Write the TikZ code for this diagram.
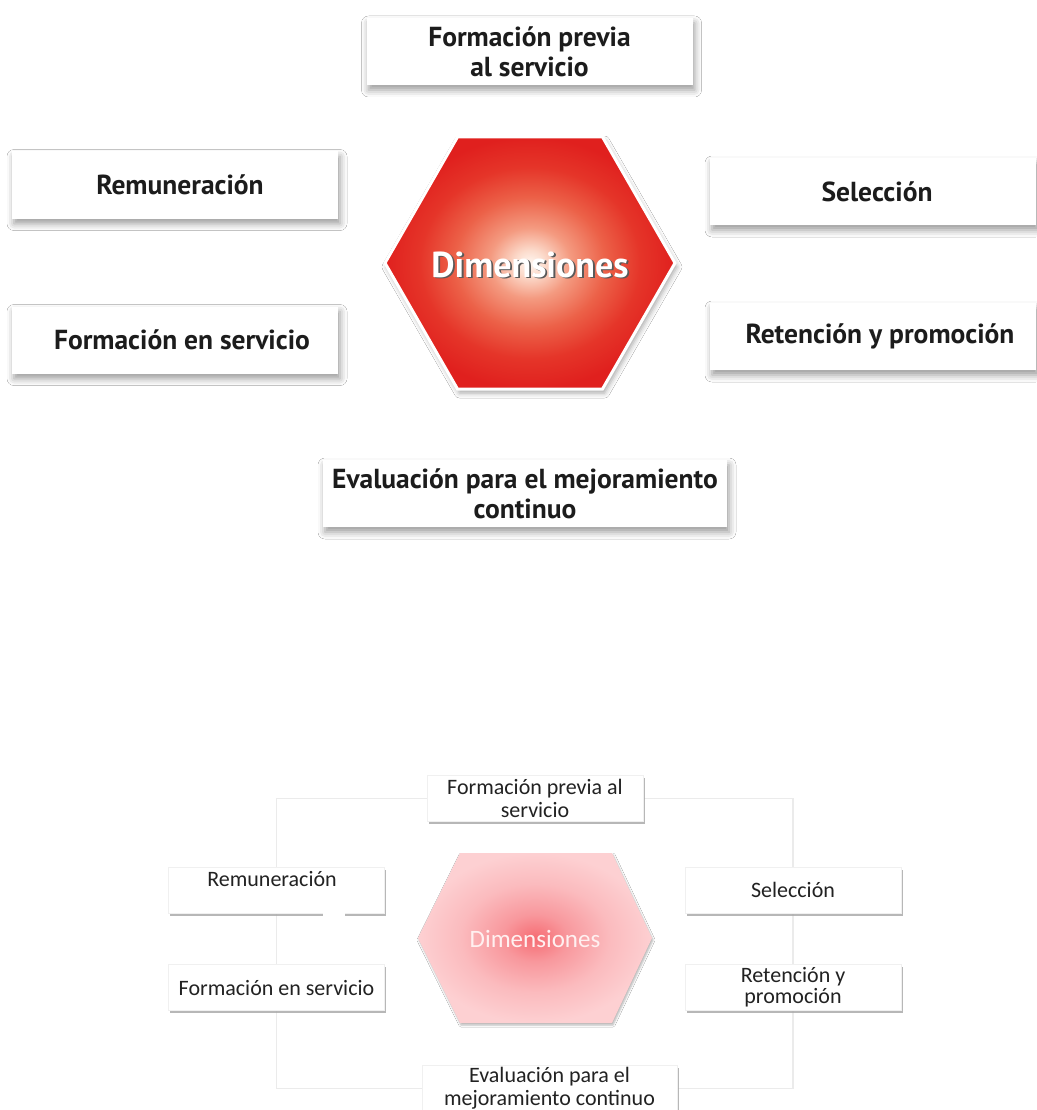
\documentclass[tikz,border=0pt]{standalone}
\usepackage{fontspec}
\setmainfont{PT Sans}
\newfontfamily\topfont{PT Sans}
\newfontfamily\lowfont{Carlito}
\usetikzlibrary{shadows.blur,shadows}
\definecolor{hA}{HTML}{FFF6F0}
\definecolor{hB}{HTML}{FCDCCD}
\definecolor{hC}{HTML}{F49A80}
\definecolor{hD}{HTML}{EC6148}
\definecolor{hE}{HTML}{E53529}
\definecolor{hF}{HTML}{E0201E}
\definecolor{pA}{HTML}{F66C73}
\definecolor{pB}{HTML}{F8989D}
\definecolor{pC}{HTML}{FBBBBE}
\definecolor{pD}{HTML}{FDD0D2}
\definecolor{ink}{HTML}{1C1C1C}
\definecolor{lowink}{HTML}{222222}
\definecolor{ringgray}{HTML}{EBEBEB}
\pgfdeclareradialshading{hexred}{\pgfpoint{0bp}{0bp}}{color(0bp)=(hA); color(2.5bp)=(hB); color(7bp)=(hC); color(13bp)=(hD); color(19bp)=(hE); color(25bp)=(hF); color(50bp)=(hF)}
\pgfdeclareradialshading{hexpink}{\pgfpoint{0bp}{0bp}}{color(0bp)=(pA); color(7bp)=(pB); color(16bp)=(pC); color(25bp)=(pD); color(50bp)=(pD)}
\tikzset{
  topbox/.style={fill=white, inner sep=0pt, minimum width=326pt, minimum height=67pt,
    blur shadow={shadow xshift=2pt, shadow yshift=-5pt, shadow blur radius=7pt, shadow opacity=40},
    font=\topfont\bfseries\fontsize{27.5}{30}\selectfont, text=ink, align=center},
  lowbox/.style={fill=white, draw=gray!12, line width=0.6pt, inner sep=0pt, minimum width=216pt, minimum height=46pt,
    drop shadow={shadow xshift=1.5pt, shadow yshift=-2.5pt, fill=gray!70, opacity=0.8},
    font=\lowfont\fontsize{22}{23}\selectfont, text=lowink, align=center},
  lowtext/.style={font=\lowfont\fontsize{22}{23}\selectfont, text=lowink, inner sep=0pt},
  ring/.style={draw=ringgray, line width=1.2pt},
}
\begin{document}
\begin{tikzpicture}[x=1pt,y=-1pt]
\useasboundingbox[fill=white] (0,0) rectangle (1036,1110);

% ---------- upper diagram ----------
\node[topbox] (prev) at (529.5,51.5) {Formación previa\\al servicio};
\node[topbox] (rem) at (175,185) {\hspace*{10pt}Remuneración};
\node[topbox] (fen) at (175,340) {\hspace*{14pt}Formación en servicio};
\node[topbox] (sel) at (873,191.5) {\hspace*{8pt}Selección};
\node[topbox] (ret) at (873,336.5) {\hspace*{14pt}Retención y promoción};
\node[topbox, minimum width=404pt] (eva) at (525,493.5) {Evaluación para el mejoramiento\\continuo};

\coordinate (h1) at (385,263);
\coordinate (h2) at (457.5,137);
\coordinate (h3) at (602.5,137);
\coordinate (h4) at (675,263);
\coordinate (h5) at (602.5,389);
\coordinate (h6) at (457.5,389);
\shadedraw[shading=hexred, draw=white, line width=3pt, line join=miter,
  blur shadow={shadow xshift=2pt, shadow yshift=-4pt, shadow blur radius=5pt, shadow opacity=35}]
  (h1) -- (h2) -- (h3) -- (h4) -- (h5) -- (h6) -- cycle;
\node[text=black!65, font=\topfont\bfseries\fontsize{36}{40}\selectfont, inner sep=0pt] (dimsh) at (531.8,266.3) {Dimensiones};
\node[text=white, font=\topfont\bfseries\fontsize{36}{40}\selectfont, inner sep=0pt] (dim) at (530,264.5) {Dimensiones};

% ---------- lower diagram ----------
\coordinate (lprev) at (535,798.5);
\coordinate (lsel) at (793,890);
\coordinate (lret) at (793,987);
\coordinate (leva) at (549.5,1088.5);
\coordinate (lfen) at (276.5,987.5);
\coordinate (lrem) at (276.5,890);
\draw[ring] (lprev) -| (lsel) -- (lret) |- (leva) -| (lfen) -- (lrem) |- (lprev);

\node[lowbox] (prevB) at (lprev) {Formación previa al\\servicio};
\node[lowbox] (remB) at (lrem) {};
\node[lowtext] (remBt) at (272,879) {Remuneración};
\fill[white] (323,911.5) rectangle (345,916.5);
\node[lowbox] (fenB) at (lfen) {Formación en servicio};
\node[lowbox] (selB) at (lsel) {Selección};
\node[lowbox, font=\lowfont\fontsize{22}{21}\selectfont] (retB) at (lret) {Retención y\\promoción};
\node[lowbox, minimum width=255pt, minimum height=47pt] (evaB) at (leva) {Evaluación para el\\mejoramiento continuo};

\coordinate (k1) at (418,938);
\coordinate (k2) at (460,853);
\coordinate (k3) at (612,853);
\coordinate (k4) at (652,938);
\coordinate (k5) at (612,1023);
\coordinate (k6) at (460,1023);
\shade[shading=hexpink,
  blur shadow={shadow xshift=1pt, shadow yshift=-2pt, shadow blur radius=2pt, shadow opacity=30}]
  (k1) -- (k2) -- (k3) -- (k4) -- (k5) -- (k6) -- cycle;
\node[text=white!94!red, font=\lowfont\fontsize{25}{27}\selectfont, inner sep=0pt] (dimB) at (535,939) {Dimensiones};
\end{tikzpicture}
\end{document}
